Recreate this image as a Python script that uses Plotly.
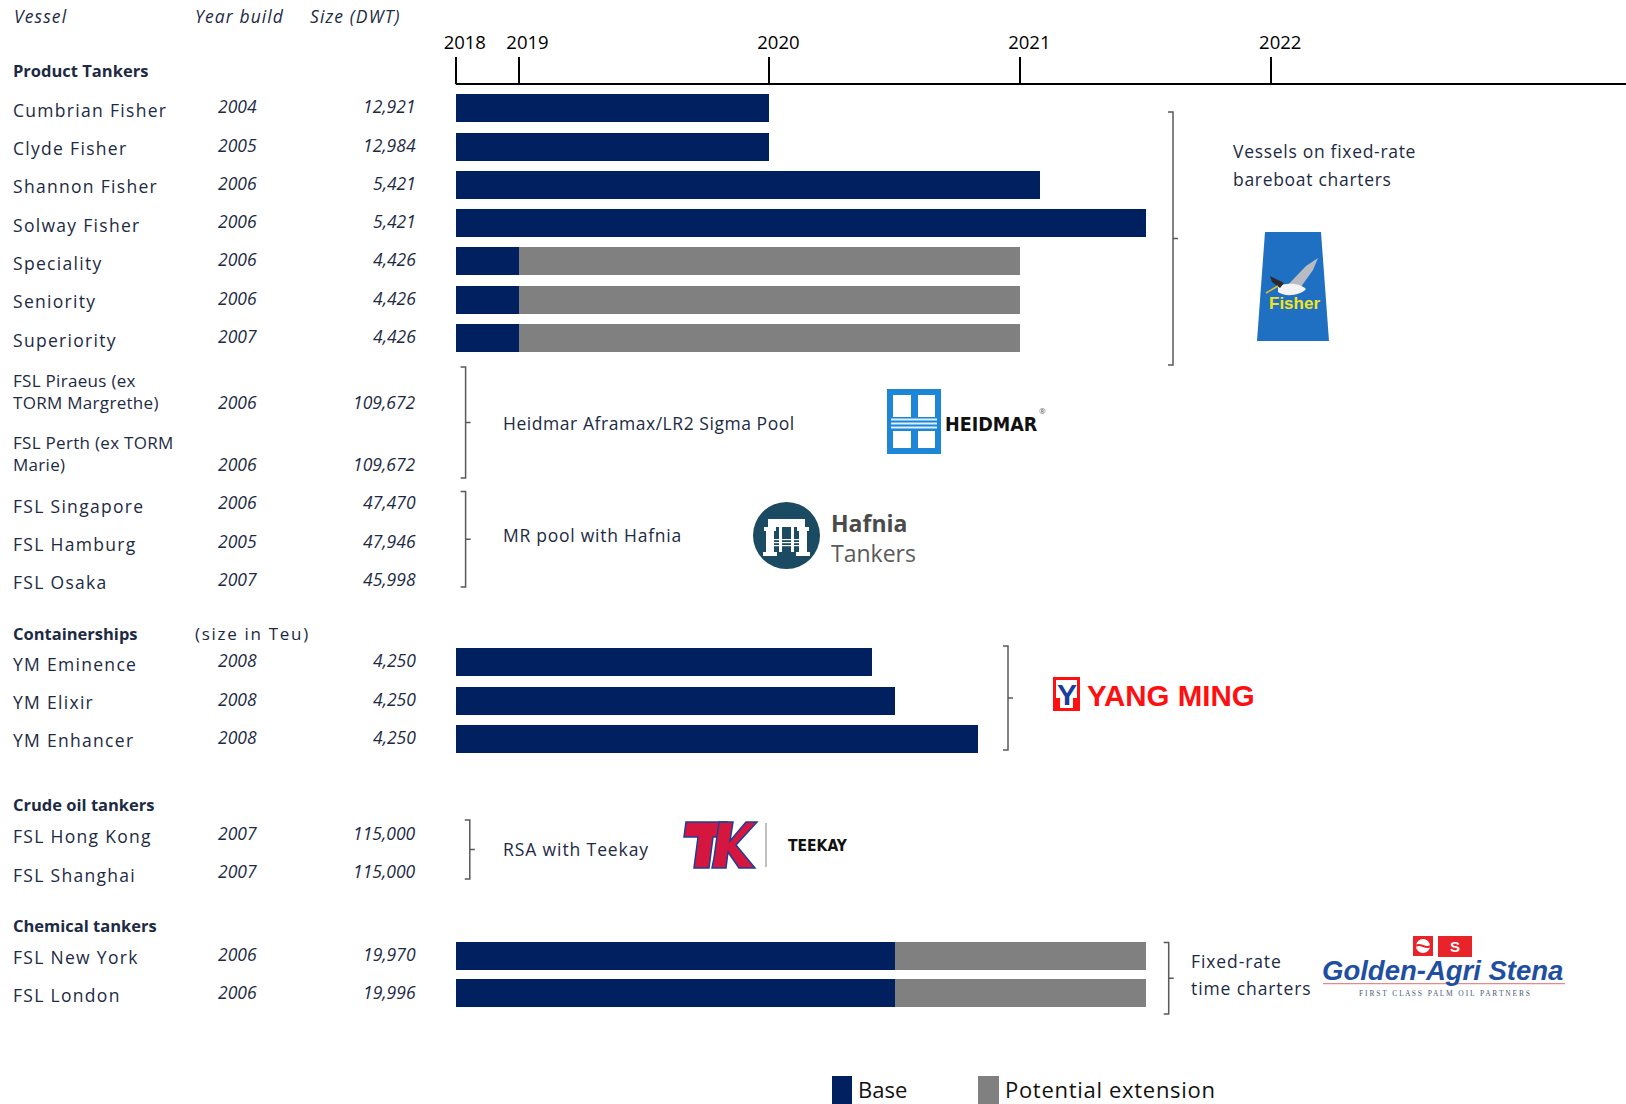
import plotly.graph_objects as go

# ------------------------------------------------------------------ data
vessels = [
    "Cumbrian Fisher", "Clyde Fisher", "Shannon Fisher", "Solway Fisher",
    "Speciality", "Seniority", "Superiority",
    "FSL Piraeus (ex<br>TORM Margrethe)", "FSL Perth (ex TORM<br>Marie)",
    "FSL Singapore", "FSL Hamburg", "FSL Osaka",
    "YM Eminence", "YM Elixir", "YM Enhancer",
    "FSL Hong Kong", "FSL Shanghai",
    "FSL New York", "FSL London",
]
year_built = [2004, 2005, 2006, 2006, 2006, 2006, 2007, 2006, 2006, 2006,
              2005, 2007, 2008, 2008, 2008, 2007, 2007, 2006, 2006]
size_dwt = ["12,921", "12,984", "5,421", "5,421", "4,426", "4,426", "4,426",
            "109,672", "109,672", "47,470", "47,946", "45,998",
            "4,250", "4,250", "4,250", "115,000", "115,000", "19,970", "19,996"]
charter_start = 2018.75
base_end = [2020.0, 2020.0, 2021.08, 2021.5, 2019.0, 2019.0, 2019.0,
            None, None, None, None, None,
            2020.41, 2020.5, 2020.83, None, None, 2020.5, 2020.5]
ext_end = [None, None, None, None, 2021.0, 2021.0, 2021.0,
           None, None, None, None, None,
           None, None, None, None, None, 2021.5, 2021.5]
tick_years = [2018.75, 2019, 2020, 2021, 2022]
tick_labels = ["2018", "2019", "2020", "2021", "2022"]
group_names = ["Product Tankers", "Containerships", "Crude oil tankers", "Chemical tankers"]
column_headers = ["Vessel", "Year build", "Size (DWT)"]
legend_names = ["Base", "Potential extension"]

# ------------------------------------------------------------------ layout / style
W, H = 1626, 1104
NAVY = "#002060"
GREY = "#808080"
TXT = "#1c2a43"
BRK = "#595959"
FONT = "'Open Sans', 'Noto Sans', sans-serif"
ARIAL = "'Liberation Sans', Arial, sans-serif"
X_RANGE = [2016.9334, 2023.414]
ROW_Y = [108.4, 146.7, 184.6, 223.0, 261.3, 299.7, 338.1,
         391.0, 453.0, 504.0, 542.4, 580.7,
         662.1, 700.5, 738.9, 834.8, 873.2, 955.6, 993.4]
VAL_Y = [106, 144.5, 182.5, 221, 259, 297.5, 336,
         401.5, 463.5, 502, 540.5, 578.5,
         660, 698.5, 737, 832.5, 871, 953.5, 991.5]
GROUP_Y = [70.5, 633.6, 804.7, 925.0]
AXIS_Y = 84
BAR_H = 28

fig = go.Figure()

# bars: base charter period
ib = [i for i, v in enumerate(base_end) if v is not None]
fig.add_trace(go.Bar(
    orientation="h", name=legend_names[0],
    y=[ROW_Y[i] for i in ib],
    x=[base_end[i] - charter_start for i in ib],
    base=[charter_start] * len(ib),
    width=BAR_H, marker=dict(color=NAVY, line=dict(width=0)),
    showlegend=False, hoverinfo="skip",
))
# bars: potential extension
ie = [i for i, v in enumerate(ext_end) if v is not None]
fig.add_trace(go.Bar(
    orientation="h", name=legend_names[1],
    y=[ROW_Y[i] for i in ie],
    x=[ext_end[i] - base_end[i] for i in ie],
    base=[base_end[i] for i in ie],
    width=BAR_H, marker=dict(color=GREY, line=dict(width=0)),
    showlegend=False, hoverinfo="skip",
))
# invisible trace registering the pixel overlay axis
fig.add_trace(go.Scatter(x=[0], y=[0], xaxis="x2", yaxis="y", mode="markers",
                         marker=dict(opacity=0), showlegend=False, hoverinfo="skip"))

ann = []
shapes = []


def text(x, y, s, size=17.5, color=TXT, anchor="left", family=FONT, ls=0,
         yanchor="middle"):
    if ls:
        s = f'<span style="letter-spacing:{ls}px">{s}</span>'
    ann.append(dict(x=x, y=y, xref="x2", yref="y", text=s, showarrow=False,
                    xanchor=anchor, yanchor=yanchor, align="left", borderpad=0,
                    font=dict(size=size, color=color, family=family)))


def rect(x0, y0, x1, y1, color, line=None, lw=0):
    shapes.append(dict(type="rect", xref="x2", yref="y", x0=x0, y0=y0, x1=x1, y1=y1,
                       fillcolor=color, line=dict(width=lw, color=line or color), layer="above"))


def path(d, fill=None, line=None, lw=0):
    shapes.append(dict(type="path", xref="x2", yref="y", path=d,
                       fillcolor=fill if fill else "rgba(0,0,0,0)",
                       line=dict(width=lw, color=line or "rgba(0,0,0,0)"), layer="above"))


def bracket(x, y1, y2):
    ym = (y1 + y2) / 2
    path(f"M {x-5},{y1} L {x},{y1} L {x},{y2} L {x-5},{y2} M {x},{ym} L {x+5},{ym}",
         line=BRK, lw=1.5)


# column headers
for s, x in zip(column_headers, [13, 194, 309]):
    text(x, 16, f"<i>{s}</i>", size=17.5, ls=1.1)

# group headers
for s, y in zip(group_names, GROUP_Y):
    text(12, y, f"<b>{s}</b>", size=16.5)
text(194, GROUP_Y[1], "(size in Teu)", size=17, ls=1.7)

# vessel rows
for i, name in enumerate(vessels):
    two = "<br>" in name
    if two:
        text(12, ROW_Y[i], name, size=17, ls=0.3)
    else:
        text(12, ROW_Y[i] + 1.5, name, size=17.5, ls=1.3)
    text(237, VAL_Y[i], f"<i>{year_built[i]}</i>", size=17.5, anchor="center")
    text(417, VAL_Y[i], f"<i>{size_dwt[i]}</i>", size=17.5, anchor="right")

# timeline axis baseline
shapes.append(dict(type="line", xref="x", yref="y", x0=tick_years[0], x1=X_RANGE[1],
                   y0=AXIS_Y, y1=AXIS_Y, line=dict(color="black", width=2), layer="above"))

# brackets
bracket(1173, 112, 365)
bracket(465.6, 367, 478)
bracket(465.6, 491.5, 587)
bracket(1008, 646, 750)
bracket(469.8, 820, 879)
bracket(1168.7, 942.6, 1014)

# group descriptions
text(1232, 150.5, "Vessels on fixed-rate", ls=0.7)
text(1232, 178.5, "bareboat charters", ls=0.7)
text(502, 423, "Heidmar Aframax/LR2 Sigma Pool", ls=0.55)
text(502, 535, "MR pool with Hafnia", ls=0.75)
text(502, 849, "RSA with Teekay", ls=0.9)
text(1190, 961, "Fixed-rate", ls=0.9)
text(1190, 988, "time charters", ls=0.9)

# ---- Fisher logo
path("M 1265,232 L 1321,232 L 1329,341 L 1257,341 Z", fill="#1f6fc2")
path("M 1283,290 L 1306,266 L 1318,258 L 1313,270 L 1298,291 Z", fill="#b8bcc2")
path("M 1278,287 C 1284,282 1300,283 1306,289 C 1300,296 1284,297 1278,292 Z", fill="#f4f4f4")
path("M 1270,276 L 1284,283 L 1280,288 L 1272,282 Z", fill="#2b2b2b")
path("M 1278,286 L 1266,293", line="#e8c020", lw=1.5)
text(1294, 303, "<b>Fisher</b>", size=17, color="#f2e520", anchor="center", family=ARIAL)

# ---- Heidmar logo
rect(887, 389, 941, 454, "#1e86d6")
for (x0, x1) in [(893, 911), (918, 935)]:
    rect(x0, 395, x1, 417, "white")
    rect(x0, 431, x1, 448, "white")
for yy in (419.5, 423.5, 427.5):
    rect(891, yy - 1, 937, yy + 1, "#dff0fb")
text(944, 424, "<b>HEIDMAR</b>", size=19.5, color="#111111",
     family="'DejaVu Sans Condensed', 'Liberation Sans Narrow', Roboto, sans-serif")
text(1038, 410, "®", size=8, color="#555555")

# ---- Hafnia logo
shapes.append(dict(type="circle", xref="x2", yref="y", x0=753, x1=820, y0=502, y1=569,
                   fillcolor="#1b4a63", line=dict(width=0), layer="above"))
rect(768, 519, 805, 527, "white")
rect(764, 527, 776, 531, "white")
rect(797, 527, 809, 531, "white")
rect(766, 531, 774, 552, "white")
rect(799, 531, 807, 552, "white")
rect(763, 552, 777, 556, "white")
rect(796, 552, 810, 556, "white")
rect(779, 527, 782, 552, "white")
rect(791, 527, 794, 552, "white")
for yy in (539, 542, 545):
    rect(774, yy, 799, yy + 1.2, "white")
text(830, 538,
     '<span style="color:#4a4a4a"><b>Hafnia</b></span><br>'
     '<span style="color:#5a5a5a">Tankers</span>',
     size=23, color="#4a4a4a")

# ---- Yang Ming logo
rect(1053, 677, 1080, 711, "#ff1010")
rect(1056, 680, 1077, 708, "white")
text(1066.5, 694, "<b>Y</b>", size=30, color="#1c3c9c", anchor="center", family=ARIAL)
rect(1056, 698, 1060, 708, "#ff1010")
rect(1073, 698, 1077, 708, "#ff1010")
text(1086, 695, "<b>YANG MING</b>", size=29.5, color="#ff1010", family=ARIAL)

# ---- Teekay logo
path("M 686,822 L 727,822 L 724,837 L 713,837 L 709,868 L 694,868 L 698,837 L 684,837 Z",
     fill="#d5173f", line="#1c3f94", lw=1.5)
path("M 714,858 L 719,822 L 733,822 L 730,841 L 746,822 L 757,822 L 736,845 L 755,868 L 739,868 L 728,852 L 726,868 L 712,868 Z",
     fill="#d5173f", line="#1c3f94", lw=1.5)
path("M 766,823 L 766,867", line="#aaaaaa", lw=1.5)
text(787, 846, "<b>TEEKAY</b>", size=15.5, color="#111111",
     family="'DejaVu Sans Condensed', 'Liberation Sans Narrow', Roboto, sans-serif")

# ---- Golden-Agri Stena logo
rect(1413, 936, 1433, 956, "#e8232a")
shapes.append(dict(type="circle", xref="x2", yref="y", x0=1416, x1=1430, y0=939, y1=953,
                   fillcolor="white", line=dict(width=0), layer="above"))
path("M 1416,946 C 1420,942 1426,950 1430,946", line="#e8232a", lw=2)
rect(1438, 936, 1472, 957, "#e8232a")
text(1455, 946.5, "<b>S</b>", size=15, color="white", anchor="center", family=ARIAL)
text(1321, 970.5, "<b><i>Golden-Agri Stena</i></b>", size=27.5, color="#1f4fa0", family=ARIAL)
rect(1323, 983, 1565, 984.3, "#e58a8a")
text(1444, 993.5, "F I R S T   C L A S S   P A L M   O I L   P A R T N E R S", size=7.5,
     color="#4a5a7a", anchor="center", family="'Liberation Serif', serif")

# ---- legend
rect(832, 1076, 852, 1104, NAVY)
text(857, 1088.5, legend_names[0], size=22, color="#111111")
rect(978, 1076, 999, 1104, GREY)
text(1004, 1088.5, legend_names[1], size=22, color="#111111", ls=0.7)

fig.update_layout(
    width=W, height=H,
    margin=dict(l=0, r=0, t=0, b=0, pad=0),
    paper_bgcolor="white", plot_bgcolor="white",
    barmode="overlay", bargap=0,
    showlegend=False,
    annotations=ann, shapes=shapes,
    xaxis=dict(range=X_RANGE, domain=[0, 1], side="top", anchor="free",
               position=1 - AXIS_Y / H, tickvals=tick_years, ticktext=tick_labels,
               ticks="outside", ticklen=27, tickwidth=2, tickcolor="black",
               ticklabelshift=9, ticklabelstandoff=1,
               tickfont=dict(size=18.5, color="black", family=FONT),
               showgrid=False, zeroline=False, showline=False, automargin=False,
               fixedrange=True),
    xaxis2=dict(range=[0, W], domain=[0, 1], overlaying="x", anchor="y",
                visible=False, fixedrange=True),
    yaxis=dict(range=[H, 0], domain=[0, 1], visible=False, fixedrange=True),
)

fig.write_html("out.html", config={"displayModeBar": False},
               post_script="document.body.style.margin='0';")
